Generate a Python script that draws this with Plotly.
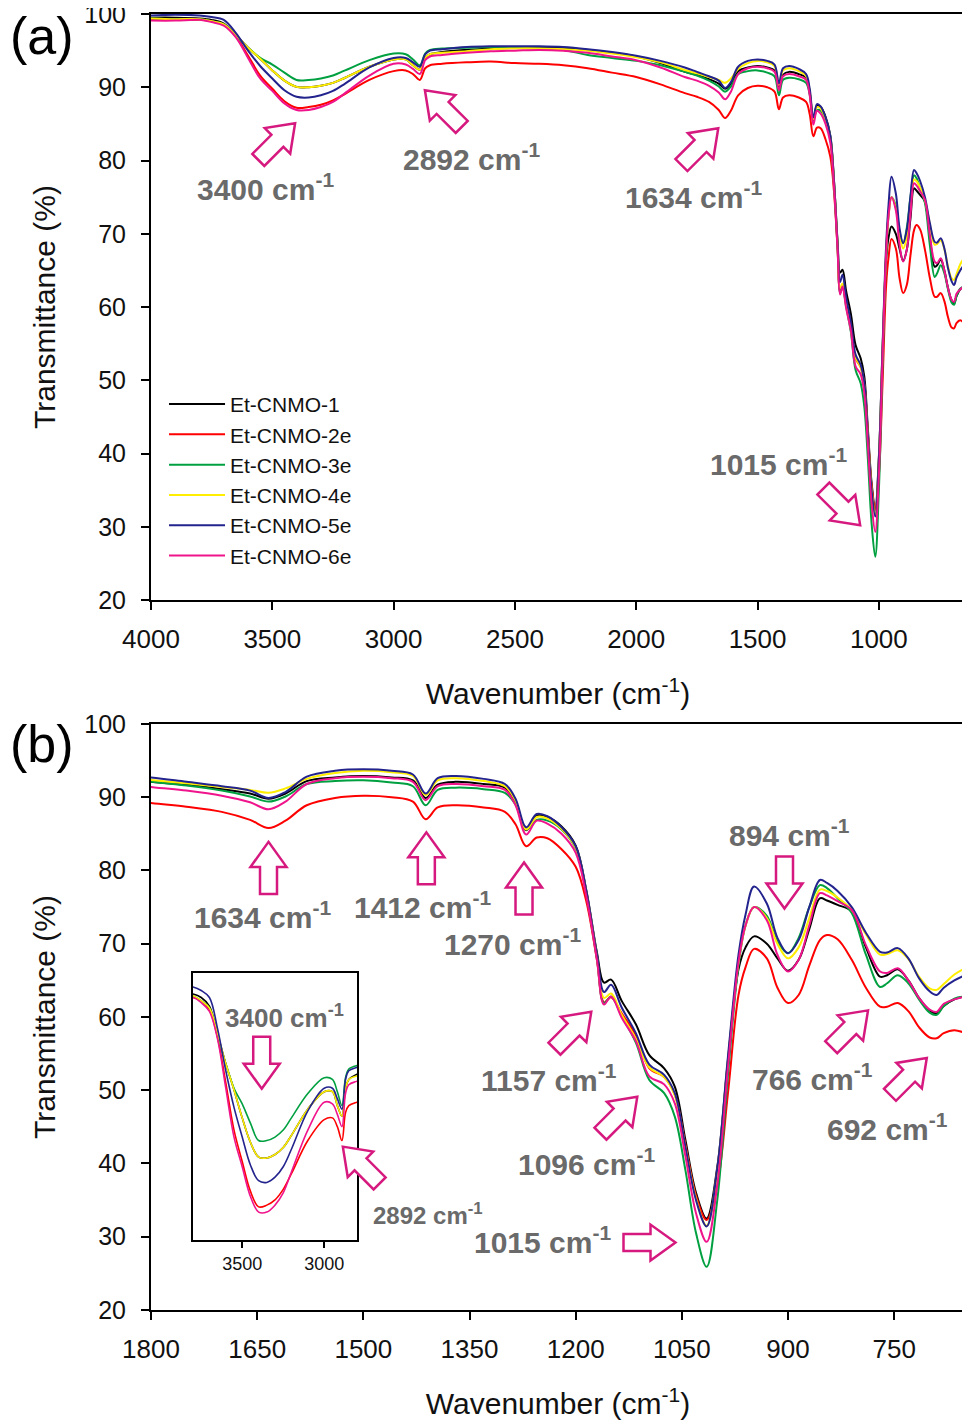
import math
import plotly.graph_objects as go

# FTIR spectra of Et-CNMO samples
wavenumber = [4000, 3900, 3800, 3750, 3700, 3650, 3600, 3550, 3500, 3450,
              3400, 3350, 3300, 3250, 3200, 3100, 3000, 2950, 2920, 2892,
              2870, 2850, 2800, 2700, 2600, 2500, 2400, 2300, 2200, 2100,
              2000, 1900, 1800, 1750, 1700, 1660, 1634, 1610, 1580, 1540,
              1500, 1460, 1430, 1412, 1395, 1370, 1330, 1300, 1285, 1270,
              1255, 1240, 1220, 1200, 1185, 1170, 1160, 1150, 1135, 1115,
              1096, 1075, 1060, 1045, 1030, 1015, 1000, 985, 970, 960,
              948, 930, 915, 900, 885, 870, 855, 845, 830, 810,
              790, 770, 760, 745, 730, 715, 700, 690, 680, 665, 650]

et_cnmo_1 = [99.5, 99.5, 99.4, 99.2, 98.7, 97.1, 95.4, 93.9, 92.3, 90.9,
             90.05, 90.0, 90.2, 90.6, 91.3, 92.8, 93.8, 93.8, 93.0, 92.4,
             94.0, 94.5, 94.8, 95.1, 95.3, 95.4, 95.5, 95.4, 95.1, 94.7,
             94.2, 93.3, 92.1, 91.7, 91.1, 90.5, 89.8, 90.5, 92.2, 92.7,
             92.9, 92.7, 92.3, 89.9, 91.7, 92.1, 91.8, 91.3, 89.3, 85.5,
             87.5, 87.3, 86.0, 83.4, 77.3, 68.8, 64.7, 65.1, 62.2, 59.0,
             54.8, 53.0, 50.5, 43.2, 36.0, 32.5, 39.5, 54.0, 66.5, 69.5,
             71.0, 70.0, 68.0, 66.3, 67.8, 72.0, 76.2, 75.9, 75.3, 74.4,
             69.5, 65.5, 65.7, 66.5, 65.0, 62.6, 60.9, 60.5, 61.5, 62.4, 62.8]

et_cnmo_2e = [99.2, 99.2, 99.2, 99.0, 98.5, 96.9, 94.3, 91.6, 89.8, 88.1,
              87.2, 87.3, 87.6, 88.2, 89.1, 91.0, 92.2, 92.3, 91.8, 91.0,
              92.6, 93.0, 93.2, 93.4, 93.5, 93.3, 93.2, 93.0, 92.6, 92.0,
              91.4, 90.4, 89.2, 88.7, 88.0, 86.9, 85.8, 86.8, 88.9, 89.9,
              90.2, 90.0, 89.4, 87.0, 88.6, 88.9, 88.6, 88.0, 86.3, 83.3,
              84.5, 84.4, 82.9, 80.5, 75.8, 67.8, 62.0, 62.7, 60.5, 57.5,
              53.0, 51.8, 49.4, 42.6, 35.6, 32.3, 37.0, 49.5, 63.0, 66.8,
              69.3, 68.0, 64.0, 61.9, 63.0, 67.0, 70.5, 71.2, 70.6, 67.8,
              64.0, 61.4, 61.4, 61.9, 60.8, 58.6, 57.2, 57.1, 57.8, 58.2, 57.8]

et_cnmo_3e = [99.4, 99.3, 99.3, 99.0, 98.6, 97.0, 95.4, 94.0, 93.1, 92.0,
              91.0, 91.0, 91.2, 91.6, 92.3, 93.7, 94.6, 94.5, 93.8, 93.0,
              94.6, 95.1, 95.3, 95.4, 95.5, 95.4, 95.3, 95.1, 94.4, 94.0,
              93.6, 93.0, 92.1, 91.6, 90.9, 90.1, 89.4, 90.1, 91.8, 92.2,
              92.3, 92.0, 91.5, 88.9, 91.0, 91.3, 91.1, 90.6, 89.0, 85.6,
              86.9, 86.8, 85.6, 83.0, 76.8, 68.0, 61.9, 62.8, 60.1, 56.5,
              51.4, 49.6, 46.4, 39.1, 30.5, 25.9, 35.0, 52.0, 67.0, 72.5,
              75.0, 73.8, 70.3, 68.7, 70.8, 75.0, 78.0, 77.6, 76.2, 74.2,
              68.5, 64.1, 64.6, 65.7, 64.6, 62.4, 60.6, 60.3, 61.5, 62.5, 62.8]

et_cnmo_4e = [99.4, 99.3, 99.3, 99.0, 98.6, 97.1, 95.4, 93.9, 92.3, 90.9,
              90.05, 90.0, 90.2, 90.6, 91.3, 92.8, 93.8, 93.8, 93.0, 92.4,
              94.0, 94.5, 94.7, 94.9, 95.2, 95.3, 95.3, 95.2, 95.0, 94.6,
              94.1, 93.4, 92.35, 91.9, 91.4, 91.0, 90.6, 91.2, 92.5, 93.3,
              93.6, 93.4, 92.9, 90.3, 92.3, 92.6, 92.2, 91.5, 89.5, 85.6,
              87.3, 87.1, 85.7, 83.1, 77.0, 68.3, 62.6, 63.2, 60.3, 57.0,
              53.1, 51.8, 49.3, 42.3, 35.2, 31.5, 39.0, 54.0, 67.5, 72.5,
              75.0, 73.5, 70.0, 68.0, 69.5, 73.5, 77.4, 77.2, 76.3, 74.6,
              71.3, 68.5, 68.6, 69.1, 67.9, 65.5, 63.9, 63.7, 64.5, 65.8, 66.65]

et_cnmo_5e = [99.8, 99.9, 99.8, 99.6, 99.2, 97.4, 95.0, 92.9, 91.2, 89.6,
              88.7, 88.6, 88.9, 89.5, 90.5, 92.7, 94.0, 94.0, 93.4, 92.8,
              94.5, 95.0, 95.2, 95.5, 95.6, 95.6, 95.6, 95.5, 95.2, 94.8,
              94.3, 93.6, 92.7, 92.1, 91.5, 90.9, 89.9, 90.7, 92.8, 93.6,
              93.8, 93.6, 93.1, 90.5, 92.6, 92.9, 92.5, 91.8, 89.8, 85.9,
              87.7, 87.4, 85.9, 83.3, 77.2, 68.5, 63.4, 64.4, 61.3, 57.8,
              53.5, 52.1, 49.6, 42.3, 35.0, 31.4, 39.3, 54.5, 68.5, 74.0,
              77.8, 75.5, 70.8, 68.7, 70.5, 75.0, 78.7, 78.3, 77.2, 75.0,
              71.5, 68.9, 68.8, 69.4, 68.0, 65.3, 63.5, 63.0, 64.0, 65.0, 65.7]

et_cnmo_6e = [99.1, 99.1, 99.2, 98.9, 98.4, 96.8, 94.0, 91.2, 89.5, 87.8,
              86.9, 86.9, 87.3, 88.0, 89.2, 91.6, 93.2, 93.1, 92.5, 91.8,
              93.7, 94.2, 94.4, 94.7, 94.9, 95.0, 95.1, 95.0, 94.7, 94.2,
              93.7, 92.7, 91.4, 90.9, 90.2, 89.3, 88.35, 89.4, 91.8, 92.6,
              92.8, 92.6, 92.1, 89.6, 91.5, 91.8, 91.5, 91.0, 88.9, 84.9,
              86.8, 86.4, 85.0, 82.4, 76.5, 67.8, 61.7, 62.8, 59.9, 56.7,
              51.9, 50.8, 48.2, 41.0, 33.2, 29.3, 37.0, 53.0, 67.5, 72.5,
              75.0, 73.2, 68.5, 66.2, 67.8, 72.5, 76.9, 76.6, 75.8, 74.6,
              69.8, 66.2, 66.0, 66.65, 65.0, 62.6, 61.0, 60.7, 61.8, 62.4, 62.8]

names = ["Et-CNMO-1", "Et-CNMO-2e", "Et-CNMO-3e", "Et-CNMO-4e", "Et-CNMO-5e", "Et-CNMO-6e"]
series = [et_cnmo_1, et_cnmo_2e, et_cnmo_3e, et_cnmo_4e, et_cnmo_5e, et_cnmo_6e]
colors = ["#000000", "#ff0000", "#00a040", "#ffee00", "#23238e", "#f0148c"]

PINK = "#d6197f"
GREY = "#6a6a6a"
INK = "#111111"
FONT = "Arial, Liberation Sans, sans-serif"

# peak labels: (axis, x, y, text, size)
labels = [
    ("", 3530, 76.4, "3400", 30),
    ("", 2677, 80.5, "2892", 30),
    ("", 1766, 75.3, "1634", 30),
    ("", 1415, 38.8, "1015", 30),
    ("2", 1642, 73.9, "1634", 30),
    ("2", 1417, 75.3, "1412", 30),
    ("2", 1289, 70.2, "1270", 30),
    ("2", 1238, 51.7, "1157", 30),
    ("2", 1185, 40.2, "1096", 30),
    ("2", 1247, 29.6, "1015", 30),
    ("2", 898, 85.1, "894", 30),
    ("2", 866, 51.8, "766", 30),
    ("2", 760, 45.0, "692", 30),
    ("2", 1611, 60.0, "3400", 26),
    ("2", 1409, 33.1, "2892", 24),
]

# block arrows: (axis, tip x, tip y, direction in degrees)
arrows = [
    ("", 3406, 85.1, 45),
    ("", 2871, 89.6, 135),
    ("", 1662, 84.4, 45),
    ("", 1077, 30.2, -45),
    ("2", 1634, 83.9, 90),
    ("2", 1411, 85.2, 90),
    ("2", 1273, 81.1, 90),
    ("2", 1178, 60.7, 45),
    ("2", 1113, 49.1, 45),
    ("2", 1059, 29.2, 0),
    ("2", 905, 74.8, -90),
    ("2", 787, 60.9, 45),
    ("2", 704, 54.4, 45),
    ("3", 3381, 93.97, -90),
    ("2", 1529, 42.3, 135),
]


def block_arrow(angle, length=52, head=25, half_head=18, half_shaft=8.5):
    pts = [(0, 0), (-head, half_head), (-head, half_shaft), (-length, half_shaft),
           (-length, -half_shaft), (-head, -half_shaft), (-head, -half_head)]
    a = math.radians(angle)
    out = []
    for px, py in pts:
        rx = px * math.cos(a) - py * math.sin(a)
        ry = px * math.sin(a) + py * math.cos(a)
        out.append(f"{rx:.1f},{ry:.1f}")
    return "M " + " L ".join(out) + " Z"


fig = go.Figure()

for name, ys, col in zip(names, series, colors):
    fig.add_trace(go.Scatter(x=wavenumber, y=ys, name=name, mode="lines",
                             line=dict(color=col, width=2, shape="spline"),
                             xaxis="x", yaxis="y"))
for name, ys, col in zip(names, series, colors):
    fig.add_trace(go.Scatter(x=wavenumber, y=ys, name=name, mode="lines",
                             line=dict(color=col, width=2, shape="spline"),
                             xaxis="x2", yaxis="y2", showlegend=False))
for name, ys, col in zip(names, series, colors):
    fig.add_trace(go.Scatter(x=wavenumber, y=ys, name=name, mode="lines",
                             line=dict(color=col, width=1.6, shape="spline"),
                             xaxis="x3", yaxis="y3", showlegend=False))

annotations = []
for ax, x, y, txt, size in labels:
    annotations.append(dict(xref="x" + ax, yref="y" + ax, x=x, y=y, showarrow=False,
                            text=f"<b>{txt} cm<sup>-1</sup></b>",
                            font=dict(size=size, color=GREY, family=FONT)))
annotations.append(dict(xref="paper", yref="paper", x=-0.1757, y=0.983, xanchor="left",
                        yanchor="middle", showarrow=False, text="(a)",
                        font=dict(size=52, color="black", family=FONT)))
annotations.append(dict(xref="paper", yref="paper", x=-0.1757, y=0.437, xanchor="left",
                        yanchor="middle", showarrow=False, text="(b)",
                        font=dict(size=52, color="black", family=FONT)))

shapes = []
for ax, x, y, ang in arrows:
    shapes.append(dict(type="path", xref="x" + ax, yref="y" + ax,
                       xsizemode="pixel", ysizemode="pixel", xanchor=x, yanchor=y,
                       path=block_arrow(ang), fillcolor="white",
                       line=dict(color=PINK, width=2.5), layer="above"))

axis_common = dict(showline=True, linecolor="black", linewidth=2, mirror=True,
                   ticks="outside", ticklen=8, tickwidth=2, tickcolor="black",
                   showgrid=False, zeroline=False, automargin=False,
                   tickfont=dict(size=26, color=INK, family=FONT))

xtitle = dict(text="Wavenumber (cm<sup>-1</sup>)", font=dict(size=30, color=INK, family=FONT), standoff=30)
ytitle = dict(text="Transmittance (%)", font=dict(size=30, color=INK, family=FONT), standoff=20)
yfont = dict(size=25, color=INK, family=FONT)

# the page body adds an 8px offset, so the figure is 8px smaller each way
fig.update_layout(
    width=962, height=1417,
    margin=dict(l=143, r=5, t=6, b=115),
    paper_bgcolor="white", plot_bgcolor="white",
    font=dict(family=FONT),
    xaxis=dict(axis_common, domain=[0, 1], anchor="y", range=[4000, 645],
               tick0=0, dtick=500, title=xtitle, ticklabelstandoff=7),
    yaxis=dict(axis_common, domain=[0.5478, 1], anchor="x", range=[20, 100],
               dtick=10, title=ytitle, ticklabelstandoff=10, tickfont=yfont,
               ticklabeloverflow="allow"),
    xaxis2=dict(axis_common, domain=[0, 1], anchor="y2", range=[1800, 650],
                tick0=0, dtick=150, title=xtitle, ticklabelstandoff=7),
    yaxis2=dict(axis_common, domain=[0, 0.4522], anchor="x2", range=[20, 100],
                dtick=10, title=ytitle, ticklabelstandoff=10, tickfont=yfont,
                ticklabeloverflow="allow"),
    xaxis3=dict(axis_common, domain=[0.0516, 0.2531], anchor="y3", range=[3800, 2800],
                tick0=0, dtick=500, ticklen=6, tickfont=dict(size=18, color=INK, family=FONT)),
    yaxis3=dict(showline=True, linecolor="black", linewidth=2, mirror=True, showgrid=False,
                zeroline=False, automargin=False, domain=[0.054, 0.26], anchor="x3",
                range=[85.3, 100.6], ticks="", showticklabels=False),
    legend=dict(x=0.016, y=0.7146, xanchor="left", yanchor="top", bgcolor="rgba(0,0,0,0)",
                font=dict(size=21, color=INK, family=FONT), itemwidth=56, tracegroupgap=0),
    annotations=annotations,
    shapes=shapes,
)

fig.write_html("out.html")
